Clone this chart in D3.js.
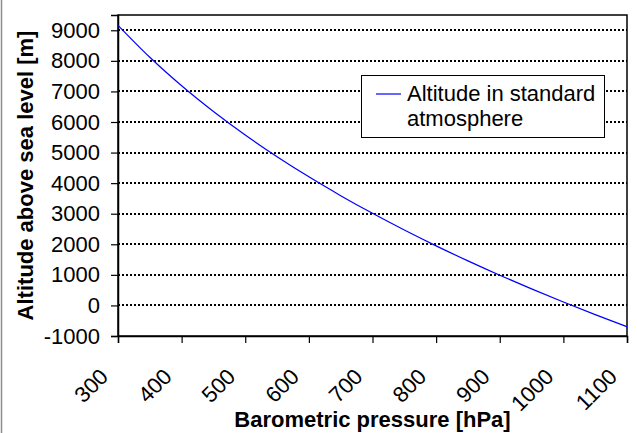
<!DOCTYPE html>
<html>
<head>
<meta charset="utf-8">
<script src="https://cdn.jsdelivr.net/npm/d3@7"></script>
<style>
  html, body { margin: 0; padding: 0; background: #fff; }
  svg { display: block; font-family: "Liberation Sans", Arial, sans-serif; }
</style>
</head>
<body>
<svg id="chart" width="637" height="433"></svg>
<script>
// Data
const pressure = [300, 350, 400, 450, 500, 550, 600, 650, 700, 750, 800, 850, 900, 950, 1000, 1050, 1100];
const altitude = [9164, 8117, 7185, 6344, 5574, 4865, 4206, 3591, 3012, 2466, 1949, 1457, 988, 540, 111, -301, -697];
const xTicks = [300, 400, 500, 600, 700, 800, 900, 1000, 1100];
const yTicks = [-1000, 0, 1000, 2000, 3000, 4000, 5000, 6000, 7000, 8000, 9000];
const seriesName = ["Altitude in standard", "atmosphere"];
const xTitle = "Barometric pressure [hPa]";
const yTitle = "Altitude above sea level [m]";

const svg = d3.select("#chart");
const L = 118, R = 627, T = 15, B = 336;
const FS = 22;

const x = d3.scaleLinear().domain([300, 1100]).range([L, R]);
const y = d3.scaleLinear().domain([-1000, 9500]).range([B, T]);

// outer chart border (left edge only visible)
svg.append("line").attr("x1", 1.5).attr("x2", 1.5).attr("y1", 0).attr("y2", 433)
  .attr("stroke", "#8c8c8c").attr("stroke-width", 1.5);

// grid lines
svg.append("g").selectAll("line").data(yTicks.filter(d => d > -1000)).join("line")
  .attr("x1", L).attr("x2", R)
  .attr("y1", d => Math.round(y(d))).attr("y2", d => Math.round(y(d)))
  .attr("stroke", "#000").attr("stroke-width", 2).attr("stroke-dasharray", "2,2");

// plot frame
svg.append("rect").attr("x", L).attr("y", T).attr("width", R - L).attr("height", B - T)
  .attr("fill", "none").attr("stroke", "#000").attr("stroke-width", 1.5);

// y axis
const yAxis = svg.append("g").attr("transform", `translate(${L},0)`)
  .call(d3.axisLeft(y).tickValues(yTicks).tickSize(7).tickPadding(11).tickFormat(d => String(d)));
yAxis.select(".domain").attr("stroke", "#000").attr("stroke-width", 1.5);
yAxis.selectAll(".tick line").attr("stroke", "#000").attr("stroke-width", 1.2);
yAxis.selectAll(".tick text").attr("font-size", FS).attr("fill", "#000")
  .attr("font-family", "Liberation Sans, Arial, sans-serif");

// x axis
const xAxis = svg.append("g").attr("transform", `translate(0,${B})`)
  .call(d3.axisBottom(x).tickValues(xTicks).tickSize(7).tickFormat(d => String(d)));
xAxis.select(".domain").attr("stroke", "#000").attr("stroke-width", 1.5);
xAxis.selectAll(".tick line").attr("stroke", "#000").attr("stroke-width", 1.2);
xAxis.selectAll(".tick text")
  .attr("font-size", FS).attr("fill", "#000")
  .attr("font-family", "Liberation Sans, Arial, sans-serif")
  .attr("text-anchor", "end")
  .attr("dy", null).attr("y", null)
  .attr("transform", "translate(-9,42) rotate(-45)");

// series line
svg.append("path").datum(pressure.map((p, i) => [p, altitude[i]]))
  .attr("fill", "none").attr("stroke", "#0000ff").attr("stroke-width", 1.2)
  .attr("d", d3.line().x(d => x(d[0])).y(d => y(d[1])).curve(d3.curveMonotoneX));

// legend
const lg = svg.append("g");
lg.append("rect").attr("x", 361.5).attr("y", 75.5).attr("width", 243).attr("height", 62)
  .attr("fill", "#fff").attr("stroke", "#000").attr("stroke-width", 1);
lg.append("line").attr("x1", 376).attr("x2", 401).attr("y1", 94).attr("y2", 94)
  .attr("stroke", "#0000ff").attr("stroke-width", 1.2);
lg.selectAll("text").data(seriesName).join("text")
  .attr("x", 407).attr("y", (d, i) => 101 + i * 25)
  .attr("font-size", FS).attr("fill", "#000").text(d => d);

// axis titles
svg.append("text").attr("x", (L + R) / 2).attr("y", 427)
  .attr("text-anchor", "middle").attr("font-size", FS).attr("font-weight", "bold")
  .text(xTitle);
svg.append("text").attr("transform", `translate(33,${(T + B) / 2}) rotate(-90)`)
  .attr("text-anchor", "middle").attr("font-size", FS).attr("font-weight", "bold")
  .text(yTitle);
</script>
</body>
</html>
